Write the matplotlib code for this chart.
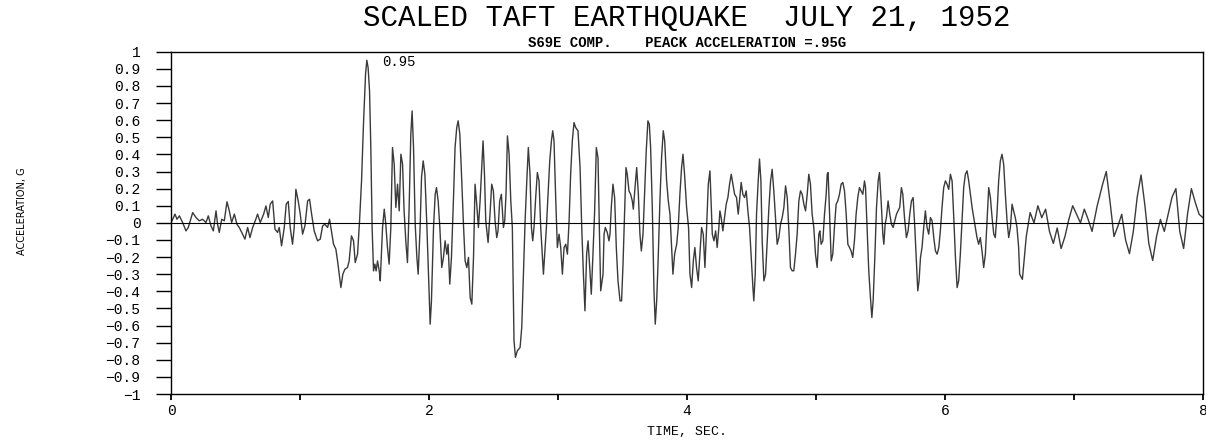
import matplotlib
matplotlib.use("Agg")
import matplotlib.pyplot as plt

# ---------------- data ----------------
time_s = [
    0.000, 0.031, 0.046, 0.065, 0.090, 0.116, 0.134, 0.168, 0.194, 0.219,
    0.245, 0.271, 0.289, 0.310, 0.328, 0.349, 0.361, 0.374, 0.393, 0.413,
    0.434, 0.452, 0.470, 0.491, 0.511, 0.529, 0.555, 0.573, 0.594, 0.612,
    0.633, 0.653, 0.671, 0.692,
    0.718, 0.736, 0.754, 0.769, 0.788, 0.806, 0.826, 0.839, 0.857, 0.878,
    0.893, 0.909, 0.924, 0.942, 0.955, 0.968, 0.986, 1.002, 1.020, 1.038,
    1.059, 1.074, 1.090, 1.110, 1.136, 1.157, 1.175, 1.193, 1.214, 1.229,
    1.245, 1.260, 1.278, 1.291, 1.304, 1.317, 1.332, 1.348, 1.368, 1.381,
    1.399, 1.415, 1.428, 1.446, 1.461, 1.477, 1.492, 1.508, 1.518, 1.528,
    1.539, 1.549, 1.559, 1.570, 1.580, 1.590, 1.601, 1.616, 1.622,
    1.640, 1.653, 1.665, 1.678, 1.691, 1.704, 1.717, 1.730, 1.743, 1.756,
    1.769, 1.782, 1.795, 1.807, 1.820, 1.833, 1.846, 1.859, 1.869, 1.880,
    1.893, 1.906, 1.916, 1.931, 1.942, 1.955, 1.968, 1.983, 1.996, 2.009,
    2.019, 2.035, 2.048, 2.058, 2.071, 2.084, 2.099, 2.112, 2.125, 2.138,
    2.148, 2.161, 2.174, 2.190, 2.202, 2.215, 2.226, 2.239, 2.252, 2.267,
    2.280, 2.293, 2.306, 2.319, 2.332, 2.345, 2.357, 2.370, 2.383, 2.396,
    2.409, 2.419, 2.430, 2.440,
    2.458, 2.473, 2.486, 2.499, 2.512, 2.525, 2.535, 2.548, 2.561, 2.569,
    2.577, 2.587, 2.597, 2.608, 2.621, 2.634, 2.646, 2.659, 2.670, 2.685,
    2.706, 2.719, 2.732, 2.745, 2.758, 2.770, 2.783, 2.794, 2.804, 2.814,
    2.827, 2.840, 2.853, 2.866, 2.879, 2.887, 2.897, 2.910, 2.923, 2.936,
    2.949, 2.959, 2.969, 2.982, 2.995, 3.008, 3.021, 3.034, 3.047, 3.060,
    3.073, 3.086, 3.098, 3.111, 3.124, 3.137, 3.155, 3.171, 3.184, 3.197,
    3.209, 3.222, 3.233, 3.246, 3.258, 3.271, 3.284, 3.297, 3.310, 3.320,
    3.331,
    3.349, 3.357, 3.367, 3.382, 3.395, 3.403, 3.413, 3.426, 3.439, 3.452,
    3.465, 3.481, 3.493, 3.504, 3.517, 3.527, 3.537, 3.550, 3.563, 3.576,
    3.584, 3.597, 3.610, 3.623, 3.635, 3.646, 3.659, 3.672, 3.684, 3.697,
    3.708, 3.718, 3.731, 3.744, 3.754, 3.765, 3.777, 3.790, 3.803, 3.816,
    3.827, 3.842, 3.855, 3.868, 3.878, 3.891, 3.904, 3.920, 3.932, 3.945,
    3.958, 3.969, 3.981, 3.997, 4.012, 4.023, 4.036, 4.049, 4.061, 4.074,
    4.087, 4.100, 4.113, 4.126, 4.139, 4.152, 4.165, 4.178,
    4.196, 4.209, 4.222, 4.234, 4.247, 4.255, 4.265, 4.278, 4.291, 4.304,
    4.317, 4.330, 4.343, 4.356, 4.369, 4.384, 4.397, 4.407, 4.420, 4.433,
    4.446, 4.459, 4.472, 4.485, 4.498, 4.511, 4.518, 4.529, 4.539, 4.552,
    4.562, 4.573, 4.583, 4.596, 4.609, 4.622, 4.635, 4.648, 4.660, 4.673,
    4.686, 4.699, 4.712, 4.725, 4.738, 4.751, 4.764, 4.777, 4.790, 4.802,
    4.815, 4.828, 4.841, 4.854, 4.867, 4.880, 4.893, 4.906, 4.919, 4.932,
    4.944, 4.957, 4.970, 4.983, 4.996, 5.009,
    5.022, 5.030, 5.040, 5.053, 5.066, 5.079, 5.087, 5.094, 5.105, 5.118,
    5.130, 5.143, 5.156, 5.169, 5.182, 5.195, 5.208, 5.221, 5.234, 5.247,
    5.260, 5.272, 5.285, 5.298, 5.311, 5.324, 5.337, 5.350, 5.363, 5.376,
    5.384, 5.396, 5.409, 5.422, 5.433, 5.443, 5.456, 5.469, 5.482, 5.492,
    5.505, 5.518, 5.526, 5.536, 5.546, 5.559, 5.572, 5.585, 5.598, 5.611,
    5.624, 5.636, 5.649, 5.662, 5.673, 5.686, 5.701, 5.714, 5.727, 5.740,
    5.753, 5.766, 5.778, 5.789, 5.799, 5.810, 5.822, 5.835, 5.848,
    5.861, 5.874, 5.887, 5.900, 5.913, 5.926, 5.939, 5.952, 5.964, 5.977,
    5.990, 6.003, 6.016, 6.029, 6.042, 6.055, 6.068, 6.081, 6.094, 6.106,
    6.119, 6.132, 6.145, 6.158, 6.171, 6.184, 6.197, 6.210, 6.223, 6.236,
    6.248, 6.261, 6.274, 6.287, 6.300, 6.313, 6.326, 6.339, 6.352, 6.365,
    6.378, 6.390, 6.403, 6.416, 6.429, 6.442, 6.455, 6.468, 6.481, 6.494,
    6.507, 6.520, 6.532, 6.545, 6.558, 6.571, 6.579,
    6.600, 6.630, 6.660, 6.690, 6.720, 6.750, 6.780, 6.810, 6.840, 6.870,
    6.900, 6.930, 6.960, 6.990, 7.020, 7.050, 7.080, 7.110, 7.140, 7.180,
    7.220, 7.250, 7.280, 7.310, 7.340, 7.370, 7.400, 7.430, 7.460, 7.490,
    7.520, 7.550, 7.580, 7.610, 7.640, 7.670, 7.700, 7.730, 7.760, 7.790,
    7.820, 7.850, 7.880, 7.910, 7.940, 7.970, 8.000,
]

accel_g = [
    0.000, 0.051, 0.021, 0.041, 0.002, -0.047, -0.027, 0.060, 0.031, 0.012,
    0.021, 0.002, 0.041, -0.018, -0.047, 0.070, -0.008, -0.056, 0.021, 0.012,
    0.123, 0.070, 0.002, 0.051, -0.008, -0.027, -0.066, -0.095, -0.027, -0.086,
    -0.027, 0.012, 0.051, 0.002,
    0.051, 0.099, 0.031, 0.109, 0.128, -0.037, -0.056, -0.027, -0.134, -0.027,
    0.109, 0.125, -0.027, -0.125, -0.027, 0.196, 0.128, 0.051, -0.066, -0.018,
    0.128, 0.138, 0.051, -0.047, -0.105, -0.095, -0.018, -0.008, -0.027, 0.021,
    -0.056, -0.125, -0.154, -0.222, -0.300, -0.378, -0.300, -0.271, -0.261, -0.222,
    -0.076, -0.105, -0.232, -0.183, 0.002, 0.245, 0.576, 0.868, 0.950, 0.907,
    0.771, 0.440, -0.027, -0.281, -0.241, -0.281, -0.222, -0.290, -0.339,
    -0.027, 0.080, -0.008, -0.144, -0.241, -0.027, 0.440, 0.343, 0.090, 0.226,
    0.070, 0.401, 0.343, 0.070, -0.105, -0.232, 0.090, 0.518, 0.654, 0.440,
    -0.008, -0.202, -0.300, -0.027, 0.265, 0.362, 0.284, -0.008, -0.300, -0.592,
    -0.455, -0.027, 0.167, 0.206, 0.128, -0.027, -0.261, -0.202, -0.105, -0.183,
    -0.125, -0.358, -0.202, 0.148, 0.440, 0.557, 0.596, 0.518, 0.284, -0.008,
    -0.222, -0.261, -0.202, -0.436, -0.475, -0.202, 0.226, 0.109, -0.027, 0.128,
    0.323, 0.479, 0.284, 0.012,
    -0.115, 0.051, 0.226, 0.187, 0.012, -0.086, -0.047, 0.128, 0.167, 0.070,
    -0.027, 0.012, 0.167, 0.508, 0.401, 0.128, -0.027, -0.689, -0.786, -0.747,
    -0.728, -0.611, -0.300, 0.012, 0.245, 0.440, 0.284, -0.027, -0.105, -0.027,
    0.148, 0.294, 0.245, -0.027, -0.202, -0.300, -0.183, -0.027, 0.167, 0.362,
    0.479, 0.538, 0.479, 0.148, -0.144, -0.066, -0.144, -0.300, -0.144, -0.125,
    -0.183, 0.012, 0.284, 0.479, 0.586, 0.557, 0.538, 0.323, -0.027, -0.300,
    -0.514, -0.183, -0.105, -0.261, -0.417, -0.183, 0.070, 0.440, 0.381, -0.008,
    -0.397,
    -0.300, -0.066, -0.027, -0.056, -0.105, -0.066, 0.090, 0.226, 0.148, -0.144,
    -0.339, -0.456, -0.456, -0.241, 0.090, 0.323, 0.284, 0.187, 0.167, 0.128,
    0.080, 0.206, 0.323, 0.167, -0.066, -0.164, -0.066, 0.187, 0.420, 0.596,
    0.576, 0.440, 0.090, -0.397, -0.592, -0.456, -0.202, 0.128, 0.381, 0.538,
    0.479, 0.245, 0.128, 0.051, -0.105, -0.300, -0.183, -0.125, -0.027, 0.167,
    0.323, 0.401, 0.284, 0.090, -0.027, -0.300, -0.378, -0.222, -0.144, -0.261,
    -0.339, -0.183, -0.027, -0.066, -0.261, -0.027, 0.226, 0.304,
    -0.066, -0.105, -0.047, -0.144, -0.027, 0.070, 0.031, -0.047, 0.031, 0.109,
    0.148, 0.226, 0.284, 0.226, 0.167, 0.148, 0.051, 0.128, 0.236, 0.167,
    0.148, 0.187, 0.070, -0.027, -0.202, -0.378, -0.456, -0.300, 0.051, 0.245,
    0.373, 0.245, -0.105, -0.339, -0.300, -0.105, 0.090, 0.245, 0.313, 0.187,
    0.031, -0.125, -0.086, -0.008, 0.031, 0.090, 0.216, 0.148, -0.047, -0.261,
    -0.280, -0.280, -0.183, -0.066, 0.128, 0.187, 0.167, 0.109, 0.070, 0.167,
    0.284, 0.226, 0.051, -0.027, -0.183, -0.261,
    -0.066, -0.047, -0.125, -0.105, 0.051, 0.167, 0.284, 0.294, 0.051, -0.222,
    -0.183, -0.027, 0.109, 0.128, 0.167, 0.226, 0.236, 0.187, 0.051, -0.125,
    -0.144, -0.164, -0.202, -0.105, 0.051, 0.148, 0.206, 0.187, 0.167, 0.245,
    0.206, -0.027, -0.280, -0.436, -0.553, -0.456, -0.202, 0.090, 0.245, 0.294,
    0.128, -0.066, -0.125, -0.008, 0.031, 0.128, 0.051, -0.008, -0.027, 0.012,
    0.051, 0.070, 0.090, 0.206, 0.167, 0.031, -0.086, -0.047, 0.051, 0.128,
    0.148, -0.027, -0.222, -0.397, -0.339, -0.202, -0.144, -0.027, 0.070,
    -0.027, -0.066, 0.031, 0.012, -0.086, -0.164, -0.183, -0.144, -0.047, 0.090,
    0.206, 0.245, 0.226, 0.196, 0.284, 0.245, 0.031, -0.202, -0.378, -0.339,
    -0.183, 0.012, 0.206, 0.284, 0.304, 0.245, 0.167, 0.090, 0.031, -0.027,
    -0.086, -0.125, -0.086, -0.164, -0.261, -0.183, 0.012, 0.206, 0.148, 0.031,
    -0.066, -0.086, 0.051, 0.245, 0.362, 0.401, 0.342, 0.167, 0.012, -0.086,
    -0.027, 0.109, 0.070, 0.031, -0.027, -0.144, -0.300,
    -0.330, -0.080, 0.060, 0.000, 0.100, 0.030, 0.080, -0.050, -0.120, -0.030,
    -0.150, -0.080, 0.020, 0.100, 0.050, 0.000, 0.080, 0.020, -0.050, 0.100,
    0.220, 0.300, 0.120, -0.080, -0.020, 0.050, -0.100, -0.180, -0.050, 0.150,
    0.280, 0.100, -0.120, -0.220, -0.080, 0.020, -0.050, 0.050, 0.150, 0.200,
    -0.050, -0.150, 0.050, 0.200, 0.120, 0.050, 0.030,
]

y_ticks = [-1.0, -0.9, -0.8, -0.7, -0.6, -0.5, -0.4, -0.3, -0.2, -0.1, 0.0,
           0.1, 0.2, 0.3, 0.4, 0.5, 0.6, 0.7, 0.8, 0.9, 1.0]
y_tick_labels = ["\u22121", "\u22120.9", "\u22120.8", "\u22120.7", "\u22120.6",
                 "\u22120.5", "\u22120.4", "\u22120.3", "\u22120.2", "\u22120.1",
                 "0", "0.1", "0.2", "0.3", "0.4", "0.5", "0.6", "0.7", "0.8",
                 "0.9", "1"]
x_ticks = [0, 1, 2, 3, 4, 5, 6, 7, 8]
x_tick_labels = ["0", "", "2", "", "4", "", "6", "", "8"]

peak_time = 1.64
peak_value = 0.94
peak_label = "0.95"

title = "SCALED TAFT EARTHQUAKE  JULY 21, 1952"
subtitle = "S69E COMP.    PEACK ACCELERATION =.95G"
x_label = "TIME, SEC."
y_label = "ACCELERATION, G"

# ---------------- figure ----------------
mono = ["Liberation Mono", "DejaVu Sans Mono"]
fig = plt.figure(figsize=(12.06, 4.45), dpi=100)
ax = fig.add_axes([0.1418, 0.1146, 0.8557, 0.7692])

ax.plot(time_s, accel_g, color="#3a3a3a", lw=1.0)
ax.axhline(0, color="black", lw=0.8)

ax.set_xlim(0, 8)
ax.set_ylim(-1, 1)

ax.set_yticks(y_ticks)
ax.set_yticklabels(y_tick_labels, family=mono, fontsize=10.5)
ax.tick_params(axis="y", direction="out", length=11, width=1.0, pad=11)

ax.set_xticks(x_ticks)
ax.set_xticklabels(x_tick_labels, family=mono, fontsize=10.5)
ax.tick_params(axis="x", direction="out", length=4.5, width=1.3, pad=3)

for sp in ax.spines.values():
    sp.set_linewidth(1.0)
    sp.set_color("black")

ax.text(peak_time, peak_value, peak_label, family=mono, fontsize=10,
        ha="left", va="center")

fig.text(0.5697, 0.9416, title, family=mono, fontsize=21,
         ha="center", va="baseline")
fig.text(0.5697, 0.8944, subtitle, family=mono, fontsize=10,
         fontweight="bold", ha="center", va="baseline")
fig.text(0.5697, 0.029, x_label, family=mono, fontsize=9.5,
         ha="center", va="center")
fig.text(0.0182, 0.526, y_label, fontsize=7, rotation=90,
         family=["Liberation Sans Narrow", "DejaVu Sans"],
         ha="center", va="center")

fig.savefig("out.png", dpi=100)
